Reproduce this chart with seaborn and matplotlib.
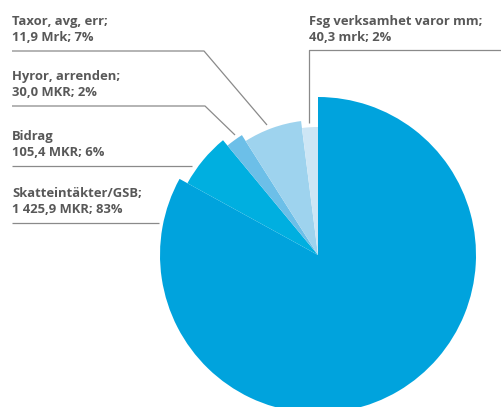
import matplotlib
matplotlib.use('Agg')
import matplotlib.pyplot as plt
import seaborn as sns

# Data
categories = ['Skatteintäkter/GSB', 'Bidrag', 'Hyror, arrenden',
              'Taxor, avg, err', 'Fsg verksamhet varor mm']
shares = [83, 6, 2, 7, 2]
amounts = ['1 425,9 MKR', '105,4 MKR', '30,0 MKR', '11,9 Mrk', '40,3 mrk']
label_titles = ['Skatteintäkter/GSB;', 'Bidrag', 'Hyror, arrenden;',
                'Taxor, avg, err;', 'Fsg verksamhet varor mm;']

# Styles
colors = ['#00a3dd', '#00afe0', '#6cbfe8', '#9ed3ee', '#cde6f5']
radii = [158, 149, 142, 135, 128]
W, H = 501, 407
cx, cy = 318, 255
text_color = '#585858'
line_color = '#8a8a8a'

sns.set_theme(style='white')
plt.rcParams['font.family'] = ['Open Sans', 'DejaVu Sans']

fig = plt.figure(figsize=(W / 100, H / 100), dpi=100)
ax = fig.add_axes([0, 0, 1, 1])

wedges, _ = ax.pie(shares, colors=colors, startangle=90, counterclock=False,
                   radius=radii[0], center=(cx, H - cy),
                   wedgeprops=dict(linewidth=0))
for w, r in zip(wedges, radii):
    w.set_radius(r)

ax.set_xlim(0, W)
ax.set_ylim(0, H)
ax.set_aspect('equal')
ax.axis('off')


def Y(y):
    return H - y


# label text (x, baseline of first line) in pixel coords, top-left origin
label_pos = [(12, 197), (12, 140), (12, 80), (12, 25), (309, 25)]
for title, amt, sh, (x, y) in zip(label_titles, amounts, shares, label_pos):
    ax.text(x, Y(y), title, fontsize=9.4, fontweight='bold',
            color=text_color, va='baseline', ha='left')
    ax.text(x, Y(y + 16), f'{amt}; {sh}%', fontsize=9.4, fontweight='bold',
            color=text_color, va='baseline', ha='left')

# leader lines
leaders = [
    [(12, 223), (159, 223)],
    [(12, 166), (192, 166)],
    [(12, 106), (205, 106), (235, 135)],
    [(12, 51), (204, 51), (267, 125)],
    [(501, 50), (309, 50), (309, 123)],
]
for pts in leaders:
    xs = [p[0] for p in pts]
    ys = [Y(p[1]) for p in pts]
    ax.plot(xs, ys, color=line_color, linewidth=0.9, solid_capstyle='butt')

fig.savefig('out.png', dpi=100)
